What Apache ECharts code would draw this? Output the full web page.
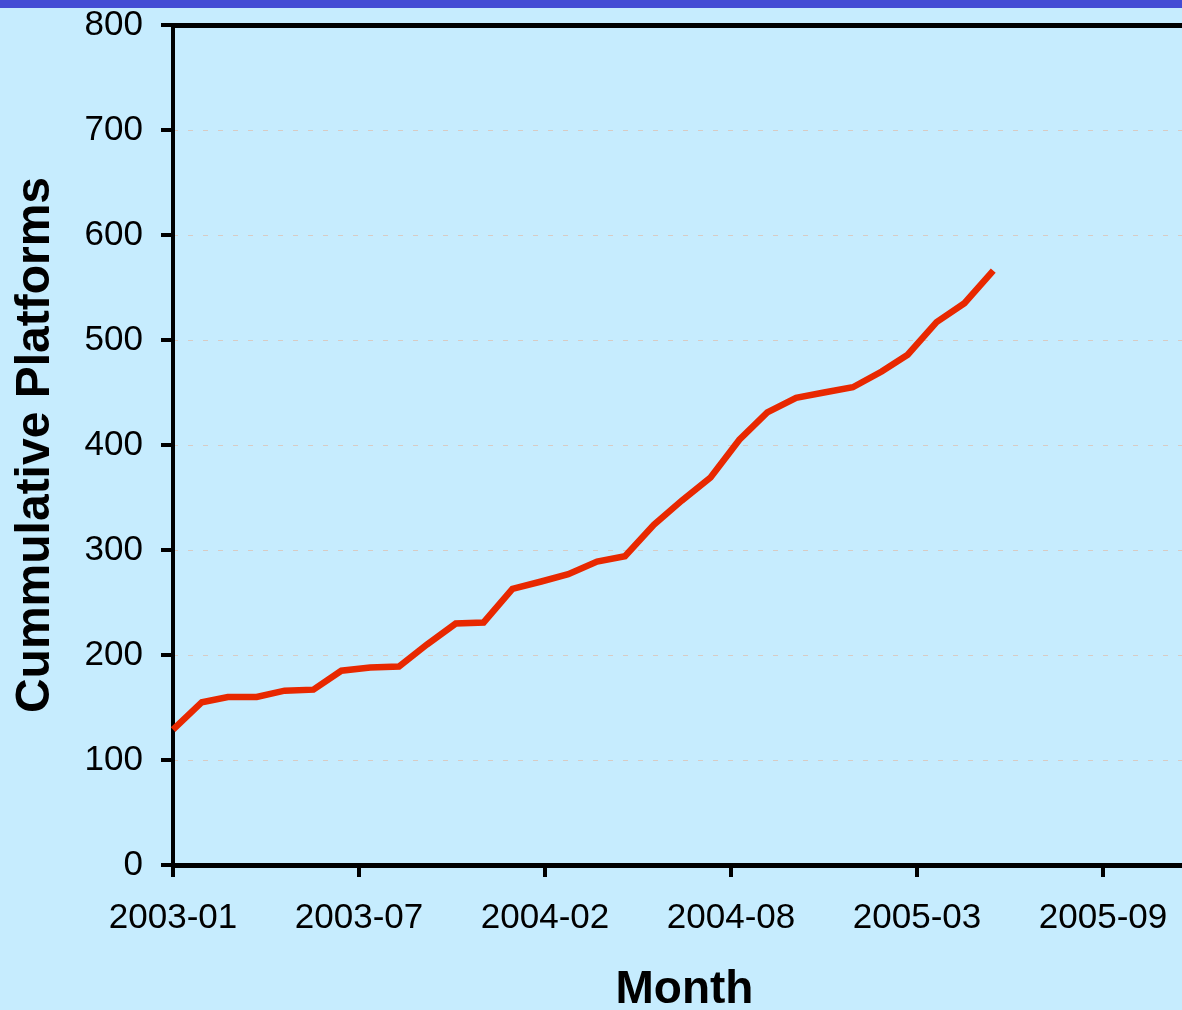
<!DOCTYPE html>
<html>
<head>
<meta charset="utf-8">
<style>
  html, body { margin: 0; padding: 0; background: #c6ecfe; }
  #chart { width: 1182px; height: 1010px; }
</style>
<script src="https://cdn.jsdelivr.net/npm/echarts@6/dist/echarts.min.js"></script>
</head>
<body>
<div id="chart"></div>
<script>
// Monthly observations
const months = [
  '2003-01','2003-02','2003-03','2003-04','2003-05','2003-06','2003-07','2003-08','2003-09','2003-10','2003-11','2003-12',
  '2004-01','2004-02','2004-03','2004-04','2004-05','2004-06','2004-07','2004-08','2004-09','2004-10','2004-11','2004-12',
  '2005-01','2005-02','2005-03','2005-04','2005-05','2005-06'
];
const platforms = [
  129, 155, 160, 160, 166, 167, 185, 188, 189, 210, 230, 231,
  263, 270, 277, 289, 294, 324, 347, 369, 405, 431, 445, 450,
  455, 470, 486, 517, 535, 566
];
const yTicks = [0, 100, 200, 300, 400, 500, 600, 700, 800];

const DAY = 86400000;
const base = Date.UTC(2003, 0, 1);
function dayOffset(ym) {
  const [y, m] = ym.split('-').map(Number);
  return Math.round((Date.UTC(y, m - 1, 1) - base) / DAY);
}
function fmtDay(v) {
  const d = new Date(base + v * DAY);
  const mm = String(d.getUTCMonth() + 1).padStart(2, '0');
  return d.getUTCFullYear() + '-' + mm;
}
const seriesData = months.map((m, i) => [dayOffset(m), platforms[i]]);

const FONT = '"Liberation Sans", Arial, sans-serif';
const chart = echarts.init(document.getElementById('chart'));
chart.setOption({
  backgroundColor: '#c6ecfe',
  animation: false,
  graphic: [{
    type: 'rect', left: 0, top: 0,
    shape: { width: 1182, height: 8 },
    style: { fill: '#444cd4' }, z: 100
  }],
  grid: { left: 173, top: 25, right: -14, bottom: 145, containLabel: false, outerBoundsMode: 'none' },
  xAxis: [{
    type: 'value', min: 0, max: 1100, interval: 200,
    name: 'Month', nameLocation: 'middle', nameGap: 102,
    nameTextStyle: { fontFamily: FONT, fontSize: 46, fontWeight: 'bold', color: '#000' },
    axisLine: { show: true, onZero: false, lineStyle: { color: '#000', width: 5 } },
    axisTick: { show: true, length: 12, lineStyle: { color: '#000', width: 4 } },
    axisLabel: {
      margin: 36, fontFamily: FONT, fontSize: 35, color: '#000',
      formatter: v => v <= 1000 ? fmtDay(v) : ''
    },
    splitLine: { show: false }
  }, {
    type: 'value', position: 'top', min: 0, max: 1100, interval: 200,
    axisLine: { show: true, onZero: false, lineStyle: { color: '#000', width: 5 } },
    axisTick: { show: false }, axisLabel: { show: false }, splitLine: { show: false }
  }],
  yAxis: {
    type: 'value', min: 0, max: 800, interval: 100,
    name: 'Cummulative Platforms', nameLocation: 'middle', nameGap: 113,
    nameTextStyle: { fontFamily: FONT, fontSize: 48, fontWeight: 'bold', color: '#000' },
    axisLine: { show: true, lineStyle: { color: '#000', width: 4 } },
    axisTick: { show: true, length: 12, lineStyle: { color: '#000', width: 4 } },
    axisLabel: {
      margin: 30, fontFamily: FONT, fontSize: 35, color: '#000',
      formatter: v => yTicks.includes(v) ? String(v) : ''
    },
    splitLine: { show: true, lineStyle: { color: '#d8cbc4', width: 1, type: [5, 10] } }
  },
  series: [{
    type: 'line', data: seriesData, xAxisIndex: 0,
    showSymbol: false, symbol: 'none',
    lineStyle: { color: '#e82800', width: 6.5, cap: 'butt', join: 'miter' },
    z: 5
  }]
});
</script>
</body>
</html>
